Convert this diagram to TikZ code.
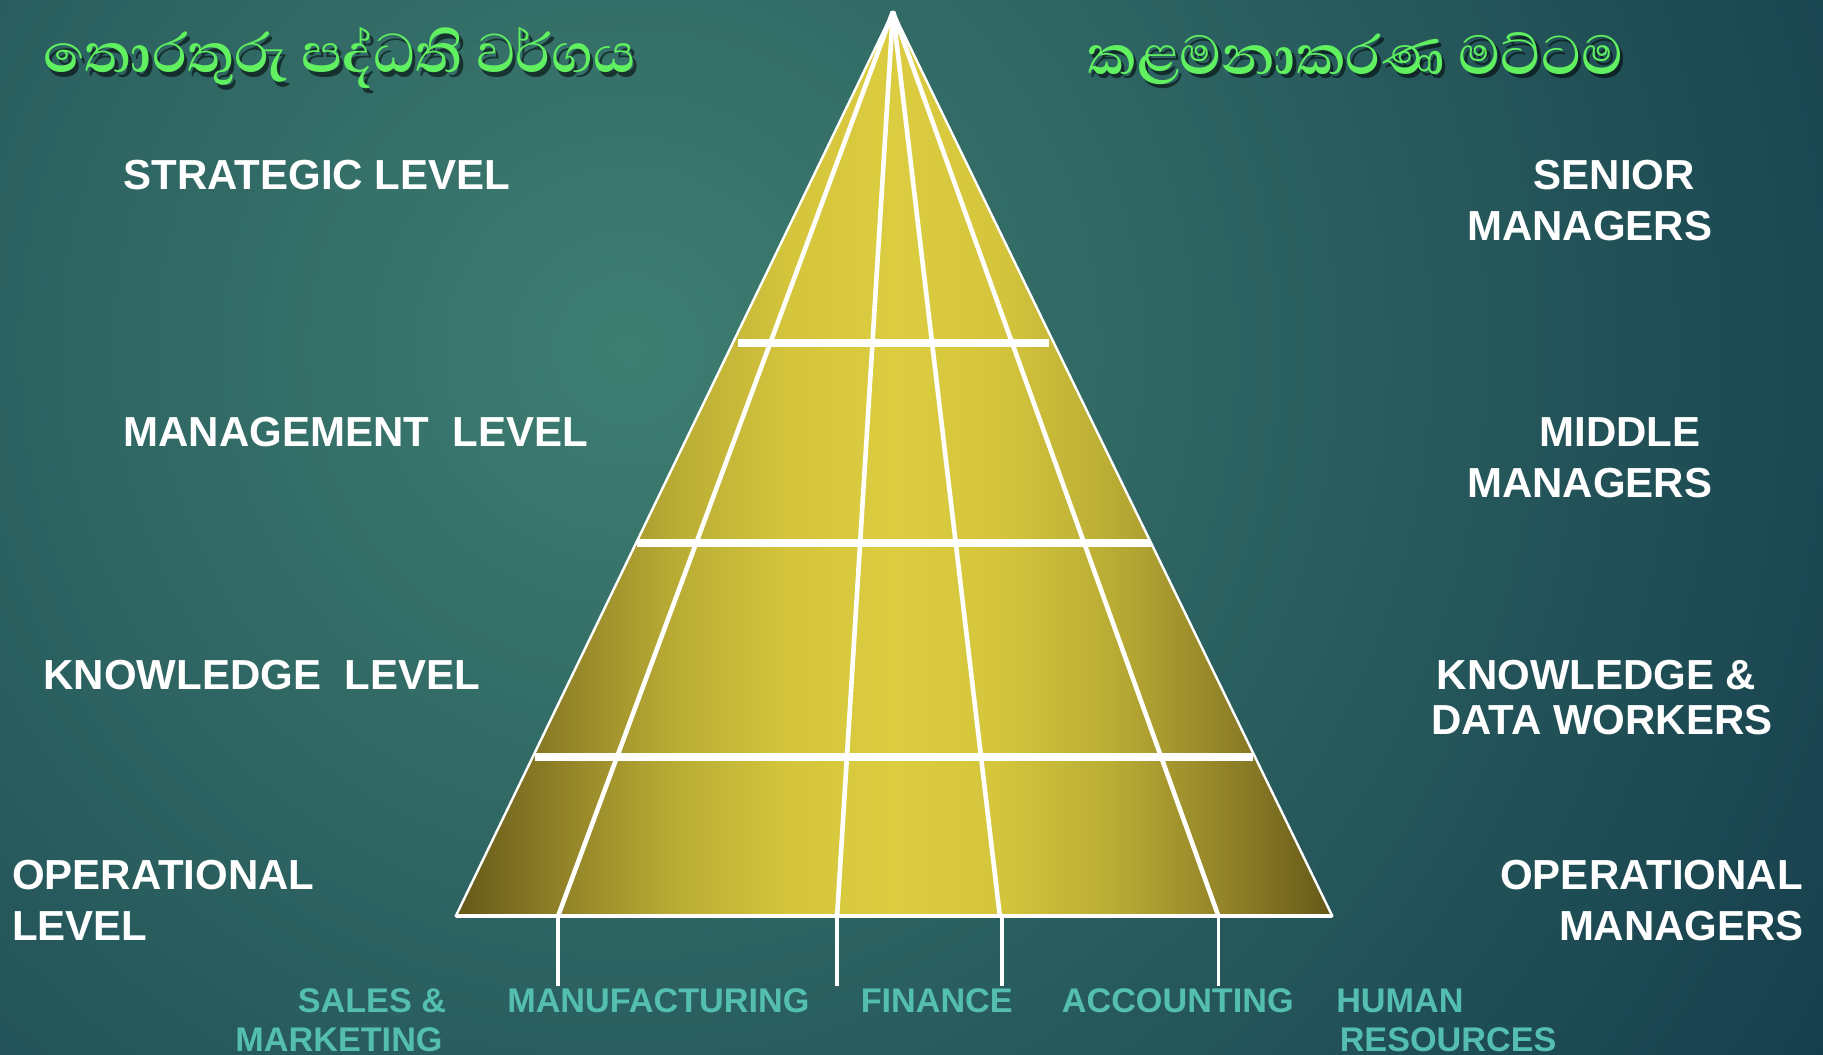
\documentclass[tikz,border=0pt]{standalone}
\usepackage{fontspec}
\setmainfont{Liberation Sans}
\newfontfamily\sinhala[Script=Sinhala]{Abhaya Libre}
\definecolor{bgin}{RGB}{62,126,113}
\definecolor{bgout}{RGB}{20,60,75}
\definecolor{olv}{RGB}{100,88,25}
\definecolor{pyA}{RGB}{145,130,40}
\definecolor{pyB}{RGB}{185,172,52}
\definecolor{pyC}{RGB}{212,197,60}
\definecolor{yel}{RGB}{220,204,64}
\definecolor{deptc}{RGB}{84,190,176}
\definecolor{ttlgreen}{RGB}{96,240,96}
\pgfdeclarehorizontalshading{pyrshade}{100bp}{color(0bp)=(olv); color(25bp)=(olv); color(31bp)=(pyA); color(37.5bp)=(pyB); color(44bp)=(pyC); color(50bp)=(yel); color(56bp)=(pyC); color(62.5bp)=(pyB); color(69bp)=(pyA); color(75bp)=(olv); color(100bp)=(olv)}
\begin{document}
\begin{tikzpicture}[x=0.5813pt,y=-0.5813pt,
  lvl/.style={text=white,font=\bfseries\fontsize{21}{25}\selectfont,inner sep=0pt},
  dept/.style={text=deptc,font=\bfseries\fontsize{17.1}{20}\selectfont,inner sep=0pt},
  ttl/.style={text=ttlgreen,font=\sinhala\bfseries\fontsize{35}{40}\selectfont,inner sep=0pt,anchor=west},
  ttlshadow/.style={text=black,opacity=0.55,font=\sinhala\bfseries\fontsize{35}{40}\selectfont,inner sep=0pt,anchor=west},
  inner/.style={white,line width=2.3pt},
  bar/.style={white,line width=4pt},
  tick/.style={white,line width=1.8pt}]
\useasboundingbox (0,0) rectangle (1568,907);
\begin{scope}
\clip (0,0) rectangle (1568,907);
\fill[bgout] (0,0) rectangle (1568,907);
\shade[inner color=bgin, outer color=bgout] (540,300) circle (1250);
\end{scope}
% pyramid coordinates
\coordinate (apex) at (768,10);
\coordinate (bl) at (392,788);
\coordinate (br) at (1146,788);
\coordinate (b1) at (480,788);
\coordinate (b2) at (720,788);
\coordinate (b3) at (860,788);
\coordinate (b4) at (1048,788);
\coordinate (t1s) at (480,790); \coordinate (t1e) at (480,848);
\coordinate (t2s) at (720,790); \coordinate (t2e) at (720,848);
\coordinate (t3s) at (862,790); \coordinate (t3e) at (862,848);
\coordinate (t4s) at (1048,790); \coordinate (t4e) at (1048,848);
\coordinate (r1l) at (635,295); \coordinate (r1r) at (902,295);
\coordinate (r2l) at (548,467); \coordinate (r2r) at (990,467);
\coordinate (r3l) at (460,651); \coordinate (r3r) at (1078,651);
\shade[shading=pyrshade] (apex) -- (bl) -- (br) -- cycle;
\draw[inner] (apex) -- (b1);
\draw[inner] (apex) -- (b2);
\draw[inner] (apex) -- (b3);
\draw[inner] (apex) -- (b4);
\draw[bar] (r1l) -- (r1r);
\draw[bar] (r2l) -- (r2r);
\draw[bar] (r3l) -- (r3r);
\draw[white,line width=1.2pt,line join=round] (apex) -- (bl) -- (br) -- cycle;
\draw[white,line width=1.8pt] (bl) -- (br);
\draw[tick] (t1s) -- (t1e);
\draw[tick] (t2s) -- (t2e);
\draw[tick] (t3s) -- (t3e);
\draw[tick] (t4s) -- (t4e);
% titles
\node[ttlshadow] (ttlLs) at (40,54) {තොරතුරු පද්ධති වර්ගය};
\node[ttl] (ttlL) at (37,50) {තොරතුරු පද්ධති වර්ගය};
\node[ttlshadow] (ttlRs) at (938,54) {කළමනාකරණ මට්ටම};
\node[ttl] (ttlR) at (935,50) {කළමනාකරණ මට්ටම};
% left levels
\node[lvl,anchor=base west] (strat) at (106,163) {STRATEGIC LEVEL};
\node[lvl,anchor=base west] (mgmt) at (106,384) {MANAGEMENT\ \ LEVEL};
\node[lvl,anchor=base west] (know) at (37,593) {KNOWLEDGE\ \ LEVEL};
\node[lvl,anchor=base west] (oper1) at (10,765) {OPERATIONAL};
\node[lvl,anchor=base west] (oper2) at (10,809) {LEVEL};
% right levels
\node[lvl,anchor=base east] (sen1) at (1458,163) {SENIOR};
\node[lvl,anchor=base east] (sen2) at (1473,207) {MANAGERS};
\node[lvl,anchor=base east] (mid1) at (1463,384) {MIDDLE};
\node[lvl,anchor=base east] (mid2) at (1473,428) {MANAGERS};
\node[lvl,anchor=base east] (kw1) at (1511,593) {KNOWLEDGE \&};
\node[lvl,anchor=base east] (kw2) at (1525,632) {DATA WORKERS};
\node[lvl,anchor=base east] (om1) at (1551,765) {OPERATIONAL};
\node[lvl,anchor=base east] (om2) at (1552,809) {MANAGERS};
% departments
\node[dept,anchor=base east] (sales1) at (384,871) {SALES \&};
\node[dept,anchor=base east] (sales2) at (381,904) {MARKETING};
\node[dept,anchor=base west] (manu) at (436,871) {MANUFACTURING};
\node[dept,anchor=base west] (fin) at (740,871) {FINANCE};
\node[dept,anchor=base west] (acc) at (913,871) {ACCOUNTING};
\node[dept,anchor=base west] (hr1) at (1149,871) {HUMAN};
\node[dept,anchor=base west] (hr2) at (1152,904) {RESOURCES};
\end{tikzpicture}
\end{document}
